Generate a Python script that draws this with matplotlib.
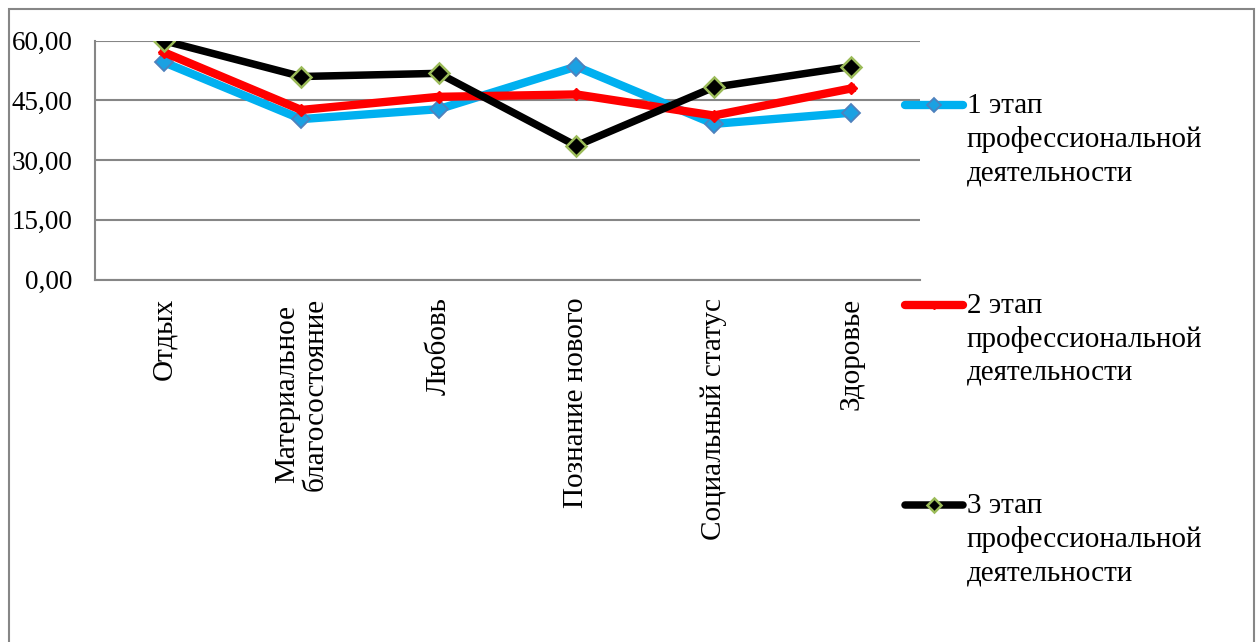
import matplotlib.pyplot as plt
from matplotlib.lines import Line2D
from matplotlib.patches import Rectangle

categories = ["Отдых", "Материальное\nблагосостояние", "Любовь",
              "Познание нового", "Социальный статус", "Здоровье"]
stage1 = [54.6, 40.3, 42.8, 53.5, 39.1, 41.9]
stage2 = [57.1, 42.6, 45.9, 46.5, 41.2, 48.0]
stage3 = [60.0, 51.0, 51.8, 33.6, 48.3, 53.5]
labels = ["1 этап\nпрофессиональной\nдеятельности",
          "2 этап\nпрофессиональной\nдеятельности",
          "3 этап\nпрофессиональной\nдеятельности"]
yticks = [0, 15, 30, 45, 60]

plt.rcParams['font.family'] = 'serif'
plt.rcParams['font.serif'] = ['Liberation Serif', 'DejaVu Serif']

W, H = 1259, 642
fig = plt.figure(figsize=(W / 100, H / 100), dpi=100)
ax = fig.add_axes([95 / W, 1 - 279.5 / H, 825 / W, 238.8 / H])

styles = [
    dict(color='#00B0F0', lw=6.0, marker='D', ms=9, mfc='#1BA1E2',
         mec='#4F81BD', mew=1.3),
    dict(color='#FF0000', lw=6.0, marker='D', ms=6, mfc='#FF0000',
         mec='#FF0000', mew=1),
    dict(color='#000000', lw=5.4, marker='D', ms=10, mfc='#000000',
         mec='#9BBB59', mew=1.8),
]

x = list(range(len(categories)))
for vals, st in zip([stage1, stage2, stage3], styles):
    ax.plot(x, vals, solid_joinstyle='miter', **st)

ax.set_xlim(-0.5, len(categories) - 0.5)
ax.set_ylim(0, 60)
ax.set_yticks(yticks)
ax.set_yticklabels([f"{v:.2f}".replace('.', ',') for v in yticks], fontsize=19.5)
ax.set_xticks(x)
ax.set_xticklabels(categories, rotation=90, fontsize=21, va='top',
                   ha='center', multialignment='center', linespacing=1.1)
ax.tick_params(axis='y', length=0, pad=16)
ax.tick_params(axis='x', length=0, pad=13)
ax.grid(axis='y', color='#868686', lw=1.5)
ax.set_axisbelow(True)
for s in ['top', 'right']:
    ax.spines[s].set_visible(False)
for s in ['left', 'bottom']:
    ax.spines[s].set_color('#868686')
    ax.spines[s].set_linewidth(1.5)

# legend drawn by hand: handle at the first line of each label
for i, (lab, st) in enumerate(zip(labels, styles)):
    yc = 1 - (105 + 200 * i) / H
    fig.add_artist(Line2D([905 / W, 963 / W], [yc, yc], color=st['color'],
                          lw=st['lw'], solid_capstyle='round',
                          transform=fig.transFigure))
    fig.add_artist(Line2D([934 / W], [yc], marker='D', ms=st['ms'] * 0.75,
                          mfc=st['mfc'], mec=st['mec'], mew=st['mew'],
                          transform=fig.transFigure))
    # va='baseline' puts the last line on this baseline
    fig.text(967 / W, 1 - (180 + 200 * i) / H, lab, fontsize=21,
             va='baseline', ha='left', linespacing=1.35)

# chart frame
fig.add_artist(Rectangle((8.5 / W, -0.05), (1254 - 8.5) / W, 1.05 - 9 / H,
                         fill=False, ec='#868686', lw=1.5,
                         transform=fig.transFigure))

fig.savefig('out.png', dpi=100)
